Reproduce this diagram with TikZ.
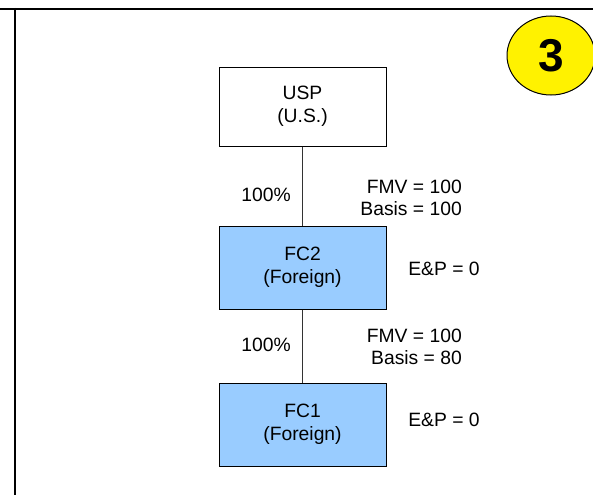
\documentclass[tikz,border=0pt]{standalone}
\usepackage{fontspec}
\usetikzlibrary{shapes.geometric}
\setmainfont{Liberation Sans}
\definecolor{boxblue}{HTML}{99CCFF}
\definecolor{connector}{HTML}{333333}
\begin{document}
\begin{tikzpicture}[x=1pt,y=-1pt,
  entity/.style={draw=black, line width=1pt, minimum width=167pt, align=center, inner sep=0pt,
    font=\fontsize{19.3}{23.5}\selectfont},
  foreign/.style={entity, fill=boxblue, minimum height=83pt},
  lbl/.style={inner sep=0pt, font=\fontsize{19.3}{22}\selectfont},
  link/.style={draw=connector, line width=1pt},
  frame/.style={line width=2.2pt}]
\useasboundingbox (0,0) rectangle (593,495);
\clip (0,0) rectangle (593,495);
\fill[white] (0,0) rectangle (593,495);
% frame lines
\coordinate (ftl) at (0,9);
\coordinate (ftr) at (593,9);
\coordinate (flt) at (15,8);
\coordinate (flb) at (15,495);
\draw[frame] (ftl) -- (ftr);
\draw[frame] (flt) -- (flb);
% badge
\node[draw=black, line width=1pt, fill=yellow, ellipse, minimum width=88pt, minimum height=79pt,
  inner sep=0pt, font=\fontsize{46}{46}\selectfont\bfseries] (badge) at (551,55.5) {3};
% entities
\node[entity, minimum height=79pt] (usp) at (302.5,106.5) {USP\\(U.S.)};
\node[foreign] (fc2) at (302.5,267.5) {FC2\\(Foreign)};
\node[foreign] (fc1) at (302.5,424.5) {FC1\\(Foreign)};
\draw[link] (usp) -- (fc2);
\draw[link] (fc2) -- (fc1);
% labels
\node[lbl] (pct1) at (266,195) {100\%};
\node[lbl] (pct2) at (266,345) {100\%};
\node[lbl, align=right, anchor=east] (val1) at (462,198) {FMV = 100\\Basis = 100};
\node[lbl, align=right, anchor=east] (val2) at (462,347) {FMV = 100\\Basis = 80};
\node[lbl] (ep2) at (444,269) {E\&P = 0};
\node[lbl] (ep1) at (444,420) {E\&P = 0};
\end{tikzpicture}
\end{document}
